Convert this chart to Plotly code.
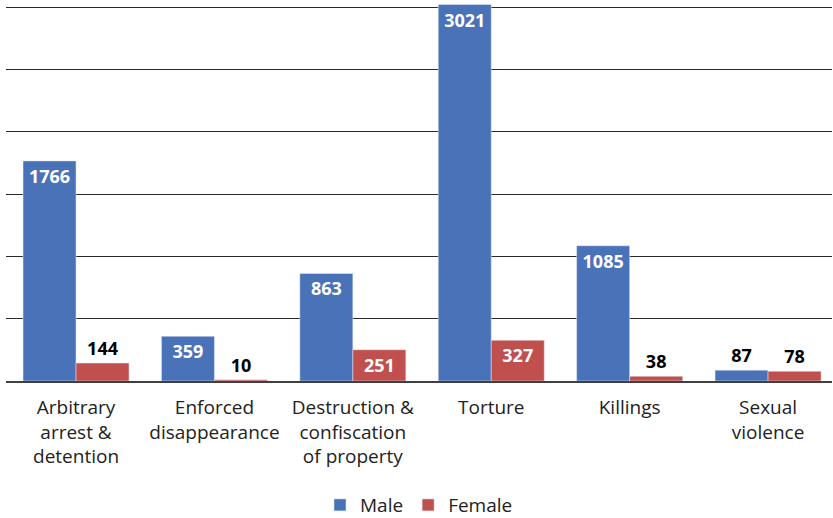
import plotly.graph_objects as go

categories = ["Arbitrary<br>arrest &<br>detention", "Enforced<br>disappearance",
              "Destruction &<br>confiscation<br>of property", "Torture", "Killings",
              "Sexual<br>violence"]
male = [1766, 359, 863, 3021, 1085, 87]
female = [144, 10, 251, 327, 38, 78]
male_pos = ["inside", "inside", "inside", "inside", "inside", "outside"]
male_col = ["white", "white", "white", "white", "white", "black"]
female_pos = ["outside", "outside", "inside", "inside", "outside", "outside"]
female_col = ["black", "black", "white", "white", "black", "black"]

FONT = "Open Sans"
fig = go.Figure()
fig.add_trace(go.Bar(name="Male", x=categories, y=male, marker_color="#4A72B8",
                     text=[str(v) for v in male], textposition=male_pos,
                     insidetextanchor="end", cliponaxis=False,
                     textfont=dict(family=FONT, size=18, color=male_col, weight="bold"),
                     textangle=0))
fig.add_trace(go.Bar(name="Female", x=categories, y=female, marker_color="#C0504D",
                     text=[str(v) for v in female], textposition=female_pos,
                     insidetextanchor="end", cliponaxis=False,
                     textfont=dict(family=FONT, size=18, color=female_col, weight="bold"),
                     textangle=0))

fig.update_layout(
    width=833, height=518,
    margin=dict(l=6, r=1, t=4, b=137, autoexpand=False),
    plot_bgcolor="white", paper_bgcolor="white",
    barmode="group", bargap=0.234, bargroupgap=0,
    font=dict(family=FONT, size=18, color="#222222"),
    showlegend=True,
    legend=dict(orientation="h", x=0.5, xanchor="center", xref="paper",
                y=0.025, yanchor="middle", yref="container",
                font=dict(family=FONT, size=19, color="#222222"),
                traceorder="normal"),
)
fig.update_xaxes(range=[-0.506, 5.462], showline=True, linecolor="#404040", linewidth=2,
                 ticks="outside", ticklen=8, tickcolor="rgba(0,0,0,0)", tickangle=0,
                 automargin=False, tickfont=dict(family=FONT, size=19, color="#222222"))
fig.update_yaxes(range=[0, 3025], dtick=500, tick0=0, showgrid=True, gridcolor="#2a2a2a",
                 gridwidth=1, zeroline=False, showticklabels=False, automargin=False)

fig.write_html("out.html", config={"displayModeBar": False},
               post_script="document.body.style.margin='0';document.body.style.overflow='hidden';")
